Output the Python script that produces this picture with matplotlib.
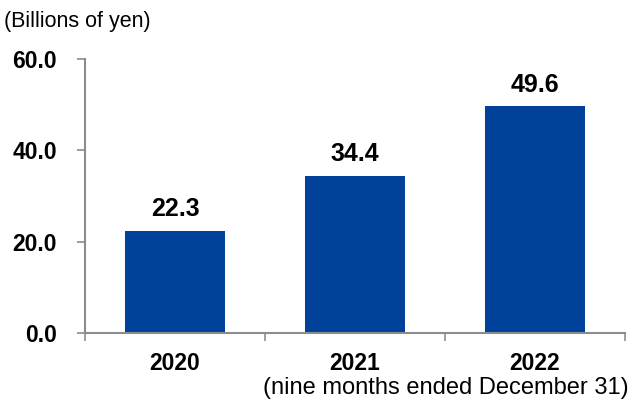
import numpy as np
import matplotlib
matplotlib.use("Agg")
import matplotlib.pyplot as plt

plt.rcParams['font.family'] = ['Liberation Sans', 'DejaVu Sans']

# Data
years = ['2020', '2021', '2022']
values = [22.3, 34.4, 49.6]
y_ticks = [0, 20, 40, 60]
unit_label = '(Billions of yen)'
note_label = '(nine months ended December 31)'

bar_color = '#00419A'
axis_color = '#8C8C8C'

fig = plt.figure(figsize=(6.33, 4.01), dpi=100)
ax = fig.add_axes([85 / 633, 1 - 333 / 401, 540 / 633, 274 / 401])

x = np.arange(len(years))
ax.bar(x, values, width=0.56, color=bar_color, zorder=2)

# value labels above bars
for xi, v in zip(x, values):
    ax.annotate(f'{v:.1f}', (xi, v), xytext=(0, 7), textcoords='offset points',
                ha='center', va='bottom', fontsize=18, fontweight='bold')

ax.set_xlim(-0.5, len(years) - 0.5)
ax.set_ylim(0, 60)
ax.set_yticks(y_ticks)
ax.set_yticklabels([f'{t:.1f}' for t in y_ticks], fontsize=16.5, fontweight='bold')

# category labels without tick marks, tick marks at the boundaries
ax.set_xticks(x)
ax.set_xticklabels(years, fontsize=16.5, fontweight='bold')
ax.tick_params(axis='x', which='major', length=0, pad=14)
ax.set_xticks(np.arange(-0.5, len(years)), minor=True)
ax.tick_params(axis='x', which='minor', length=6, color=axis_color, width=1.2)
ax.tick_params(axis='y', length=6, color=axis_color, width=1.2, pad=14)

for side in ['top', 'right']:
    ax.spines[side].set_visible(False)
for side in ['left', 'bottom']:
    ax.spines[side].set_color(axis_color)
    ax.spines[side].set_linewidth(1.5)

fig.text(4 / 633, 1 - 21 / 401, unit_label, fontsize=15.5, va='center', ha='left')
fig.text(629 / 633, 1 - 388 / 401, note_label, fontsize=17, va='center', ha='right')

fig.savefig('out.png', dpi=100)
